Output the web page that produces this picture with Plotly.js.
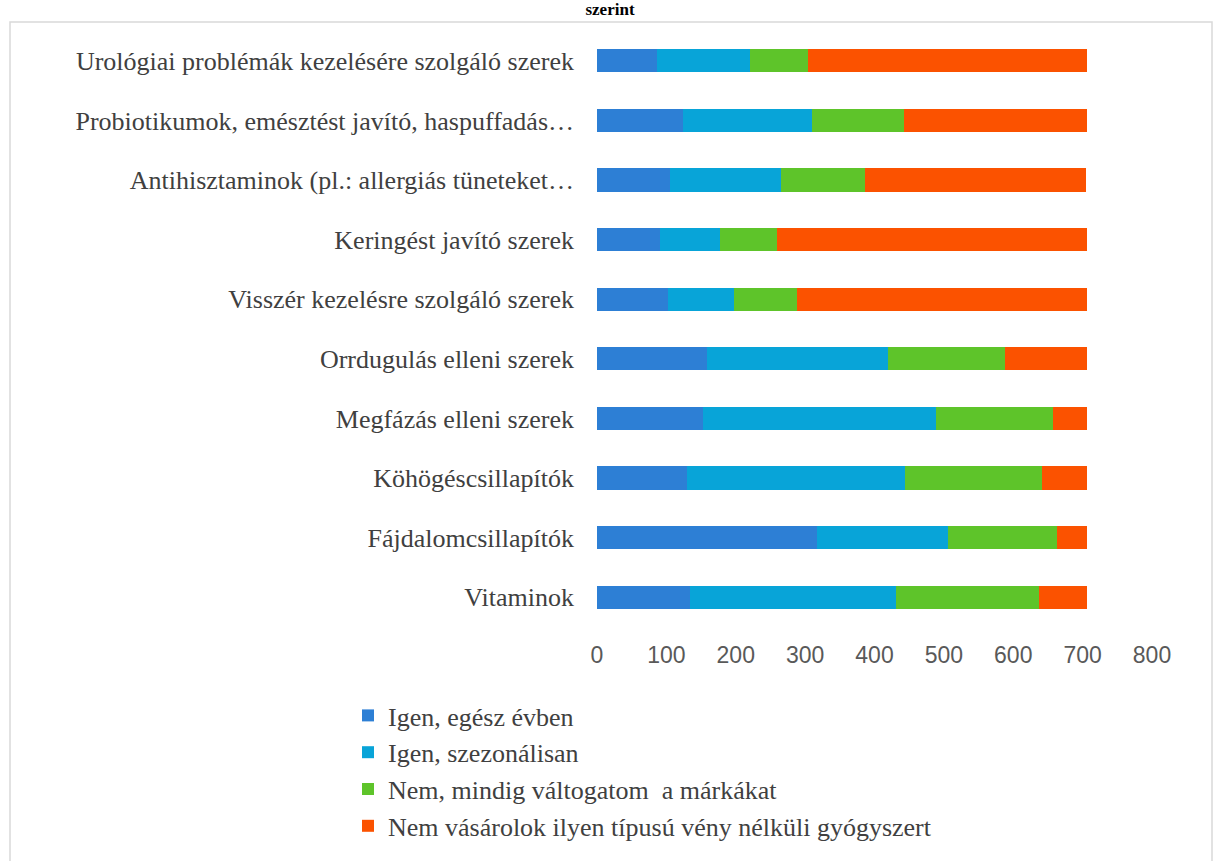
<!DOCTYPE html>
<html>
<head>
<meta charset="utf-8">
<script src="https://cdn.plot.ly/plotly-3.0.1.min.js"></script>
<style>html,body{margin:0;padding:0;background:#fff;}</style>
</head>
<body>
<div id="chart" style="width:1219px;height:861px;"></div>
<script>
// Categories, top to bottom as shown
const categories = [
  "Urológiai problémák kezelésére szolgáló szerek",
  "Probiotikumok, emésztést javító, haspuffadás…",
  "Antihisztaminok (pl.: allergiás tüneteket…",
  "Keringést javító szerek",
  "Visszér kezelésre szolgáló szerek",
  "Orrdugulás elleni szerek",
  "Megfázás elleni szerek",
  "Köhögéscsillapítók",
  "Fájdalomcsillapítók",
  "Vitaminok"
];
const seriesNames = [
  "Igen, egész évben",
  "Igen, szezonálisan",
  "Nem, mindig váltogatom  a márkákat",
  "Nem vásárolok ilyen típusú vény nélküli gyógyszert"
];
const igenEgesz   = [86, 124, 105, 91, 102, 158, 153, 130, 317, 134];
const igenSzezon  = [134, 186, 160, 86, 95, 261, 336, 314, 189, 297];
const nemValtogat = [84, 133, 122, 82, 91, 169, 169, 197, 157, 206];
const nemVasarol  = [402, 264, 318, 447, 418, 118, 49, 65, 43, 69];
const xTicks = [0, 100, 200, 300, 400, 500, 600, 700, 800];

const colors = ["#2d7fd5", "#08a4d8", "#5ec42a", "#fb5200"];
const values = [igenEgesz, igenSzezon, nemValtogat, nemVasarol];

const traces = values.map((v, i) => ({
  type: "bar",
  orientation: "h",
  name: seriesNames[i],
  y: categories,
  x: v,
  legendgroup: "g" + i,
  marker: {color: colors[i], line: {width: 0}},
  hoverinfo: "x+name"
}));

const W = 1219, H = 861, L = 597, R = 1152, T = 31, B = 627;
const px = x => (x - L) / (R - L);
const py = y => (B - y) / (B - T);

const layout = {
  width: W, height: H,
  margin: {l: L, r: W - R, t: T, b: H - B, autoexpand: false},
  paper_bgcolor: "#ffffff",
  plot_bgcolor: "#ffffff",
  barmode: "stack",
  bargap: 0.61,
  showlegend: true,
  title: {
    text: "<b>szerint</b>",
    x: 610 / W, xanchor: "center",
    y: 1 - 3 / H, yref: "container", yanchor: "top",
    pad: {t: 0},
    font: {family: "Liberation Serif, Times New Roman, serif", size: 17, color: "#000000"}
  },
  xaxis: {
    range: [0, 800],
    tickvals: xTicks,
    ticktext: xTicks.map(String),
    showgrid: false, zeroline: false, showline: false,
    ticks: "", ticklabelstandoff: 12,
    tickfont: {family: "Liberation Sans, Arial, sans-serif", size: 23, color: "#595959"},
    fixedrange: true
  },
  yaxis: {
    type: "category",
    autorange: "reversed",
    showgrid: false, zeroline: false, showline: false,
    ticks: "", ticklabelstandoff: 22,
    tickfont: {family: "Liberation Serif, Times New Roman, serif", size: 26, color: "#404040"},
    fixedrange: true
  },
  legend: {
    orientation: "v",
    x: px(348), xanchor: "left",
    y: py(692), yanchor: "top",
    traceorder: "grouped",
    tracegroupgap: 0,
    bgcolor: "rgba(0,0,0,0)",
    font: {family: "Liberation Serif, Times New Roman, serif", size: 26, color: "#404040"},
    itemclick: false, itemdoubleclick: false
  },
  shapes: [{
    type: "rect", xref: "paper", yref: "paper",
    x0: px(10), x1: px(1212), y0: py(875), y1: py(22),
    line: {color: "#d9d9d9", width: 1.5}, fillcolor: "rgba(0,0,0,0)", layer: "below"
  }]
};

Plotly.newPlot("chart", traces, layout, {displayModeBar: false});
</script>
</body>
</html>
